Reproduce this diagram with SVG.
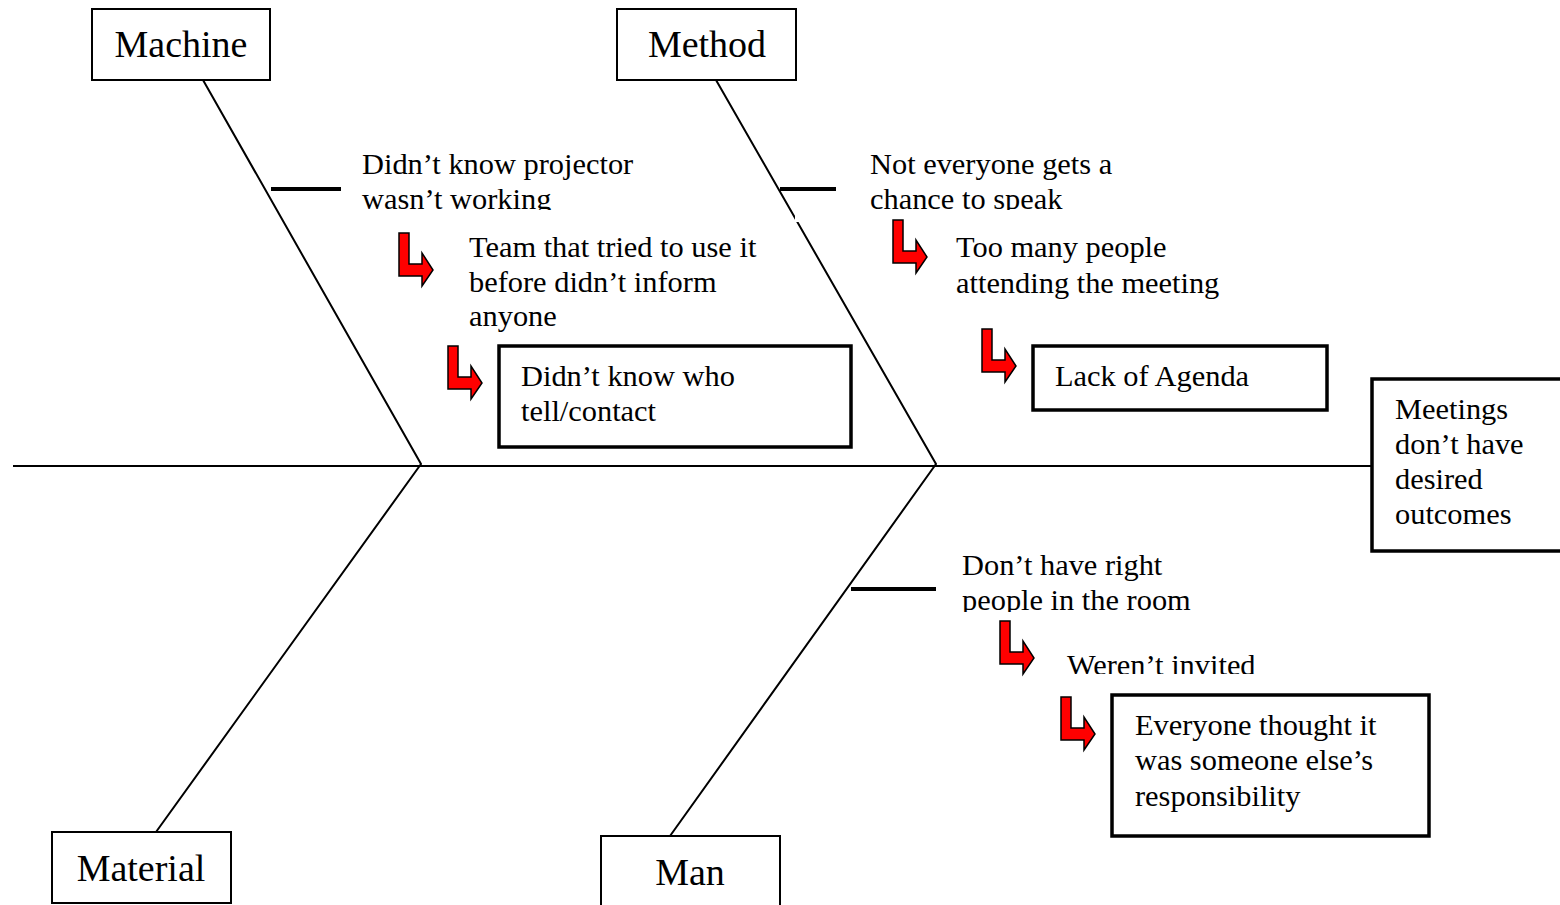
<svg xmlns="http://www.w3.org/2000/svg" width="1560" height="905" viewBox="0 0 1560 905">
  <style>
    text { font-family: "Liberation Serif", "Times New Roman", serif; fill: #000; }
    .hdr { font-size: 38px; text-anchor: middle; }
    .lbl { font-size: 30.4px; }
    .box { fill: #fff; stroke: #000; stroke-width: 2; }
    .box-b { fill: #fff; stroke: #000; stroke-width: 3.5; }
    .bone { fill: none; stroke: #000; stroke-width: 2; }
    .tick { fill: none; stroke: #000; stroke-width: 4; }
    .bent { fill: #ff0000; stroke: #000; stroke-width: 1.5; stroke-linejoin: miter; }
  </style>
  <defs>
    <!-- red L-shaped "leads to" arrow, origin at its top-left corner -->
    <path id="bent-arrow" d="M0,0 L10,0 L10,31 L23,31 L23,20 L34,37 L23,53 L23,43 L0,43 Z"/>
    <clipPath id="clip-projector"><rect x="350" y="140" width="300" height="70"/></clipPath>
    <clipPath id="clip-speak"><rect x="860" y="140" width="300" height="70"/></clipPath>
    <clipPath id="clip-room"><rect x="950" y="540" width="300" height="72"/></clipPath>
    <clipPath id="clip-invited"><rect x="1055" y="640" width="250" height="34"/></clipPath>
  </defs>

  <rect width="1560" height="905" fill="#fff"/>

  <!-- spine and bones -->
  <g id="connectors">
    <line class="bone" x1="13" y1="466" x2="1371" y2="466"/>
    <polyline class="bone" points="203,80 421,464 156,832"/>
    <polyline class="bone" points="716,80 936,464 670,836"/>
    <!-- small break in the Method bone -->
    <rect x="795" y="214" width="5" height="8" fill="#fff"/>
    <line class="tick" x1="271" y1="189" x2="341" y2="189"/>
    <line class="tick" x1="780" y1="189" x2="836" y2="189"/>
    <line class="tick" x1="851" y1="589" x2="936" y2="589"/>
    <use href="#bent-arrow" class="bent" x="399" y="233"/>
    <use href="#bent-arrow" class="bent" x="448" y="346"/>
    <use href="#bent-arrow" class="bent" x="893" y="220"/>
    <use href="#bent-arrow" class="bent" x="982" y="329"/>
    <use href="#bent-arrow" class="bent" x="1000" y="621"/>
    <use href="#bent-arrow" class="bent" x="1061" y="697"/>
  </g>

  <!-- category heads -->
  <g id="machine">
    <rect class="box" x="92" y="9" width="178" height="71"/>
    <text class="hdr" x="181" y="57">Machine</text>
  </g>
  <g id="method">
    <rect class="box" x="617" y="9" width="179" height="71"/>
    <text class="hdr" x="707" y="57">Method</text>
  </g>
  <g id="material">
    <rect class="box" x="52" y="832" width="179" height="71"/>
    <text class="hdr" x="141" y="881">Material</text>
  </g>
  <g id="man">
    <path class="box" d="M601,910 L601,836 L780,836 L780,910"/>
    <text class="hdr" x="690" y="885">Man</text>
  </g>

  <!-- effect -->
  <g id="effect">
    <rect class="box-b" x="1372" y="379" width="200" height="172"/>
    <text class="lbl" x="1395" y="419">Meetings</text>
    <text class="lbl" x="1395" y="454">don’t have</text>
    <text class="lbl" x="1395" y="489">desired</text>
    <text class="lbl" x="1395" y="524">outcomes</text>
  </g>

  <!-- Machine causes -->
  <g id="projector" clip-path="url(#clip-projector)">
    <text class="lbl" x="362" y="174">Didn’t know projector</text>
    <text class="lbl" x="362" y="209">wasn’t working</text>
  </g>
  <g id="team-didnt-inform">
    <text class="lbl" x="469" y="257">Team that tried to use it</text>
    <text class="lbl" x="469" y="292">before didn’t inform</text>
    <text class="lbl" x="469" y="326">anyone</text>
  </g>
  <g id="who-to-contact">
    <rect class="box-b" x="499" y="346" width="352" height="101"/>
    <text class="lbl" x="521" y="386">Didn’t know who</text>
    <text class="lbl" x="521" y="421">tell/contact</text>
  </g>

  <!-- Method causes -->
  <g id="chance-to-speak" clip-path="url(#clip-speak)">
    <text class="lbl" x="870" y="174">Not everyone gets a</text>
    <text class="lbl" x="870" y="209">chance to speak</text>
  </g>
  <g id="too-many-people">
    <text class="lbl" x="956" y="257">Too many people</text>
    <text class="lbl" x="956" y="293">attending the meeting</text>
  </g>
  <g id="lack-of-agenda">
    <rect class="box-b" x="1033" y="346" width="294" height="64"/>
    <text class="lbl" x="1055" y="386">Lack of Agenda</text>
  </g>

  <!-- Man causes -->
  <g id="right-people" clip-path="url(#clip-room)">
    <text class="lbl" x="962" y="575">Don’t have right</text>
    <text class="lbl" x="962" y="610">people in the room</text>
  </g>
  <g id="not-invited" clip-path="url(#clip-invited)">
    <text class="lbl" x="1067" y="675">Weren’t invited</text>
  </g>
  <g id="someone-else">
    <rect class="box-b" x="1112" y="695" width="317" height="141"/>
    <text class="lbl" x="1135" y="735">Everyone thought it</text>
    <text class="lbl" x="1135" y="770">was someone else’s</text>
    <text class="lbl" x="1135" y="806">responsibility</text>
  </g>
</svg>
